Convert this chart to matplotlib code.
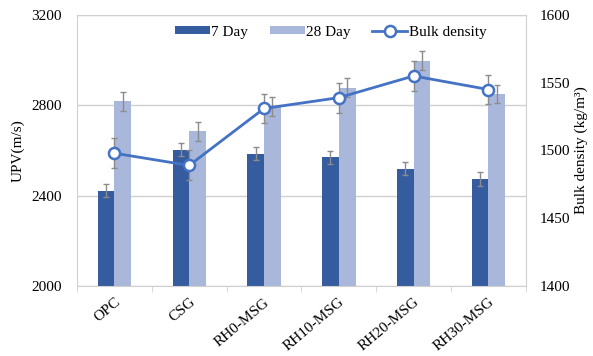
import numpy as np
import matplotlib
matplotlib.use('Agg')
import matplotlib.pyplot as plt

plt.rcParams['font.family'] = ['Liberation Serif', 'DejaVu Serif']
plt.rcParams['font.size'] = 11

groups = ['OPC', 'CSG', 'RH0-MSG', 'RH10-MSG', 'RH20-MSG', 'RH30-MSG']
upv_7d = [2422, 2604, 2586, 2570, 2520, 2474]
upv_7d_err = [29, 27, 29, 28, 27, 29]
upv_28d = [2818, 2685, 2795, 2878, 2998, 2850]
upv_28d_err = [43, 42, 43, 41, 42, 41]
density = [1498, 1489, 1531, 1539, 1555, 1545]
density_err = [11, 11, 11, 11, 11, 11]

C_7D = '#355C9F'
C_28D = '#A8B7DA'
C_LINE = '#4472C4'
C_ERR = '#8C8C8C'
C_FRAME = '#D0D0D0'

fig = plt.figure(figsize=(5.93, 3.56), dpi=100)
ax = fig.add_axes([0.1298, 0.1966, 0.757, 0.7613])

x = np.arange(len(groups))
w = 0.223
ek = dict(ecolor=C_ERR, elinewidth=1, capsize=2.5, capthick=1)
b1 = ax.bar(x - w/2, upv_7d, w, color=C_7D, yerr=upv_7d_err, error_kw=ek,
            label='7 Day', zorder=2)
b2 = ax.bar(x + w/2, upv_28d, w, color=C_28D, yerr=upv_28d_err, error_kw=ek,
            label='28 Day', zorder=2)

ax.set_ylim(2000, 3200)
ax.set_yticks([2000, 2400, 2800, 3200])
ax.set_xlim(-0.5, len(groups) - 0.5)
ax.grid(axis='y', color=C_FRAME, linewidth=1, zorder=0)
ax.set_axisbelow(True)
for s in ax.spines.values():
    s.set_color(C_FRAME)
ax.tick_params(axis='y', length=0, pad=11)
ax.set_xticks(x)
ax.set_xticklabels(groups, rotation=40, ha='right', rotation_mode='anchor')
ax.tick_params(axis='x', length=0, pad=7)
ax.set_xticks(np.arange(len(groups) + 1) - 0.5, minor=True)
ax.tick_params(axis='x', which='minor', length=4, color=C_FRAME)
ax.set_ylabel('UPV(m/s)', labelpad=5)

ax2 = ax.twinx()
ax2.errorbar(x, density, yerr=density_err, fmt='none', ecolor=C_ERR,
             elinewidth=1, capsize=2.5, capthick=1, zorder=3)
ln, = ax2.plot(x, density, color=C_LINE, linewidth=2, marker='o',
               markersize=8, markerfacecolor='white', markeredgecolor=C_LINE,
               markeredgewidth=1.8, label='Bulk density', zorder=4)
ax2.set_ylim(1400, 1600)
ax2.set_yticks([1400, 1450, 1500, 1550, 1600])
ax2.tick_params(axis='y', length=0, pad=10)
for s in ax2.spines.values():
    s.set_visible(False)
ax2.set_ylabel('Bulk density (kg/m³)', labelpad=3)

ax.legend([b1, b2, ln], ['7 Day', '28 Day', 'Bulk density'], loc='upper center',
          bbox_to_anchor=(0.565, 1.0), ncol=3, frameon=False,
          handlelength=2.3, handleheight=0.45, columnspacing=1.4,
          handletextpad=0.1, borderaxespad=0.3)

fig.savefig('out.png', dpi=100)
